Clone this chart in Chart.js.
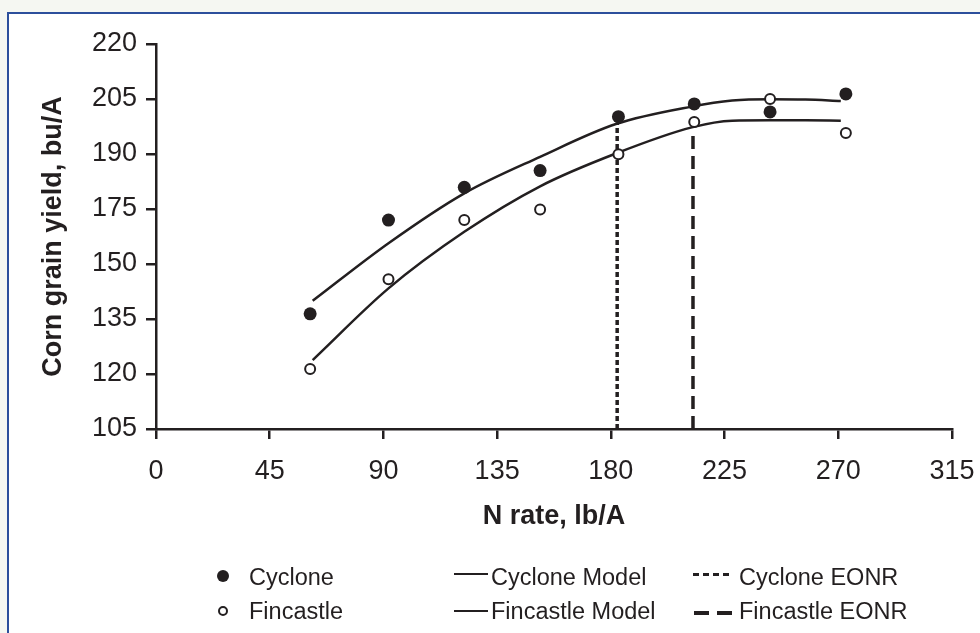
<!DOCTYPE html>
<html>
<head>
<meta charset="utf-8">
<title>Corn grain yield vs N rate</title>
<script src="https://cdn.jsdelivr.net/npm/chart.js@4.4.1/dist/chart.umd.min.js"></script>
<style>
    html, body { margin: 0; padding: 0; }
    body {
        width: 980px; height: 633px; position: relative; overflow: hidden;
        background: #f5f7f2;
        font-family: "Liberation Sans", Arial, Helvetica, sans-serif;
        color: #231f20;
    }
    #frame {
        position: absolute; left: 7px; top: 12px; right: 0; bottom: 0;
        background: #fff;
        border-left: 2px solid #2c4f9c;
        border-top: 2px solid #2c4f9c;
    }
    #chart { position: absolute; left: 0; top: 0; }
    .leg { position: absolute; font-size: 23.5px; line-height: 26px; white-space: nowrap; }
    .mk { position: absolute; }
    .dot { width: 12px; height: 12px; border-radius: 50%; background: #231f20; }
    .ring { width: 6px; height: 6px; border-radius: 50%; border: 2px solid #231f20; background: #fff; }
    .solid { width: 34px; height: 2px; background: #231f20; }
    .dotted { width: 40px; height: 3px; background: repeating-linear-gradient(to right, #231f20 0 6px, transparent 6px 10px); }
    .dashed { width: 38px; height: 4px; background: linear-gradient(to right, #231f20 0 15px, transparent 15px 23px, #231f20 23px 38px); }
</style>
</head>
<body>
<div id="frame"></div>
<canvas id="chart" width="980" height="633"></canvas>

<!-- 凡例（3列×2行） -->
<div class="mk dot" style="left:217px; top:570px;"></div>
<div class="leg" style="left:249px; top:564px;">Cyclone</div>
<div class="mk ring" style="left:218px; top:606px;"></div>
<div class="leg" style="left:249px; top:598px;">Fincastle</div>

<div class="mk solid" style="left:454px; top:573px;"></div>
<div class="leg" style="left:491px; top:564px;">Cyclone Model</div>
<div class="mk solid" style="left:454px; top:610px;"></div>
<div class="leg" style="left:491px; top:598px;">Fincastle Model</div>

<div class="mk dotted" style="left:693px; top:573px;"></div>
<div class="leg" style="left:739px; top:564px;">Cyclone EONR</div>
<div class="mk dashed" style="left:694px; top:611px;"></div>
<div class="leg" style="left:739px; top:598px;">Fincastle EONR</div>

<script>
// 観測データ（N施用量 lb/A と収量 bu/A）
const nRates = [61, 92, 122, 152, 183, 213, 243, 273];
const cycloneYield = [139.4, 167.4, 177.2, 182.2, 198.3, 202.1, 199.7, 205.1];
const fincastleYield = [122.9, 149.7, 167.4, 170.6, 187.1, 196.7, 203.6, 193.4];

// モデル曲線（図から読み取った点）
const modelRates = [62, 92, 122, 152, 182, 212, 228, 243, 257, 271];
const cycloneModel = [143.3, 160.5, 175.4, 186.3, 196.1, 201.3, 203.1, 203.5, 203.4, 203.0];
const fincastleModel = [125.6, 147.0, 163.9, 177.5, 187.3, 195.1, 197.1, 197.2, 197.2, 197.1];

// EONR（経済的最適N施用量）
const eonrRates = [182.5, 212.5];      // Cyclone, Fincastle
const eonrTops = [196.5, 194];

// 軸の目盛ラベル（原図どおり。y軸は等間隔の目盛に表示）
const xTicks = [0, 45, 90, 135, 180, 225, 270, 315];
const yTickLabels = ['105', '120', '135', '150', '175', '190', '205', '220'];

const INK = '#231f20';
const FONT = '"Liberation Sans", Arial, Helvetica, sans-serif';

const toPoints = (xs, ys) => xs.map((x, i) => ({ x: x, y: ys[i] }));

const Y_MIN = 105, Y_MAX = 220;

const axisCommon = {
    grid: { display: true, drawOnChartArea: false, drawTicks: true, tickLength: 10, color: INK, lineWidth: 2.5 },
    border: { display: true, color: INK, width: 2.5 }
};

const ctx = document.getElementById('chart').getContext('2d');
new Chart(ctx, {
    type: 'scatter',
    data: {
        datasets: [
            {
                label: 'Cyclone',
                data: toPoints(nRates, cycloneYield),
                pointStyle: 'circle', pointRadius: 6.5, pointBorderWidth: 0,
                pointBackgroundColor: INK, order: 0
            },
            {
                label: 'Fincastle',
                data: toPoints(nRates, fincastleYield),
                pointStyle: 'circle', pointRadius: 5, pointBorderWidth: 2,
                pointBorderColor: INK, pointBackgroundColor: '#fff', order: 0
            },
            {
                label: 'Cyclone Model',
                data: toPoints(modelRates, cycloneModel),
                showLine: true, pointRadius: 0, borderColor: INK, borderWidth: 2.5,
                cubicInterpolationMode: 'monotone', order: 2
            },
            {
                label: 'Fincastle Model',
                data: toPoints(modelRates, fincastleModel),
                showLine: true, pointRadius: 0, borderColor: INK, borderWidth: 2.5,
                cubicInterpolationMode: 'monotone', order: 2
            },
            {
                label: 'Cyclone EONR',
                data: [{ x: eonrRates[0], y: Y_MIN }, { x: eonrRates[0], y: eonrTops[0] }],
                showLine: true, pointRadius: 0, borderColor: INK, borderWidth: 3.5,
                borderDash: [5, 3], borderCapStyle: 'butt', order: 1
            },
            {
                label: 'Fincastle EONR',
                data: [{ x: eonrRates[1], y: Y_MIN }, { x: eonrRates[1], y: eonrTops[1] }],
                showLine: true, pointRadius: 0, borderColor: INK, borderWidth: 3.5,
                borderDash: [13, 7], borderCapStyle: 'butt', order: 1
            }
        ]
    },
    options: {
        responsive: false,
        animation: false,
        events: [],
        layout: { padding: { left: 20, right: 28, top: 44, bottom: 90 } },
        plugins: {
            legend: { display: false },
            tooltip: { enabled: false }
        },
        scales: {
            x: {
                type: 'linear',
                min: xTicks[0],
                max: xTicks[xTicks.length - 1],
                afterBuildTicks: (scale) => { scale.ticks = xTicks.map(v => ({ value: v })); },
                // 目盛ラベルのはみ出し分は右余白に含める
                afterFit: (scale) => { scale.height = 114; scale.paddingRight = 0; scale.paddingLeft = 0; },
                ticks: { color: INK, font: { family: FONT, size: 27 }, padding: 16, maxRotation: 0 },
                title: {
                    display: true, text: 'N rate, lb/A', color: INK,
                    font: { family: FONT, size: 27, weight: 'bold' },
                    padding: { top: 0, bottom: 10 }
                },
                ...axisCommon
            },
            y: {
                type: 'linear',
                min: Y_MIN,
                max: Y_MAX,
                // 原図の目盛は等間隔
                afterBuildTicks: (scale) => {
                    const n = yTickLabels.length - 1;
                    scale.ticks = yTickLabels.map((_, i) => ({ value: Y_MIN + i * (Y_MAX - Y_MIN) / n }));
                },
                afterFit: (scale) => { scale.width = 136; },
                ticks: {
                    color: INK, font: { family: FONT, size: 27 }, padding: 9,
                    callback: (value, index) => yTickLabels[index]
                },
                title: {
                    display: true, text: 'Corn grain yield, bu/A', color: INK,
                    font: { family: FONT, size: 27, weight: 'bold' },
                    padding: { top: 17, bottom: 0 }
                },
                ...axisCommon
            }
        }
    }
});
</script>
</body>
</html>
